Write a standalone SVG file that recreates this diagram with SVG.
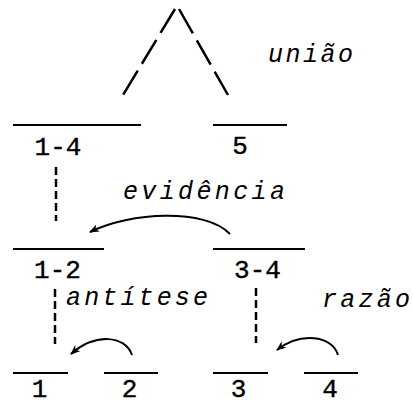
<svg xmlns="http://www.w3.org/2000/svg" width="413" height="404" viewBox="0 0 413 404">
  <defs>
    <style>
      .bar { stroke: #000; stroke-width: 2; fill: none; }
      .num { font-family: "Liberation Mono", "DejaVu Sans Mono", monospace; font-size: 26px; fill: #000; text-anchor: middle; stroke: #000; stroke-width: 0.4; }
      .rel { font-family: "Liberation Mono", "DejaVu Sans Mono", monospace; font-style: italic; font-size: 25px; fill: #000; }
      .dash { stroke: #000; stroke-width: 2.5; stroke-dasharray: 8 4; fill: none; }
      .tri { stroke: #000; stroke-width: 2.5; stroke-dasharray: 28 8; fill: none; }
      .arc { stroke: #000; stroke-width: 2; fill: none; marker-end: url(#head); }
    </style>
    <marker id="head" viewBox="0 0 10 8" refX="9" refY="4" markerWidth="10" markerHeight="8" markerUnits="userSpaceOnUse" orient="auto">
      <path d="M0,0 L10,4 L0,8 L3,4 Z" fill="#000"/>
    </marker>
  </defs>
  <rect width="413" height="404" fill="#fff"/>

  <g id="node-1-4">
    <line class="bar" x1="13" y1="125" x2="141" y2="125"/>
    <text class="num" x="58" y="155">1-4</text>
  </g>
  <g id="node-5">
    <line class="bar" x1="213" y1="125" x2="287" y2="125"/>
    <text class="num" x="240" y="154">5</text>
  </g>
  <g id="node-1-2">
    <line class="bar" x1="13" y1="249" x2="104" y2="249"/>
    <text class="num" x="57.5" y="278">1-2</text>
  </g>
  <g id="node-3-4">
    <line class="bar" x1="213" y1="249" x2="305" y2="249"/>
    <text class="num" x="257.5" y="278">3-4</text>
  </g>
  <g id="node-1">
    <line class="bar" x1="13" y1="373" x2="68" y2="373"/>
    <text class="num" x="39.5" y="397">1</text>
  </g>
  <g id="node-2">
    <line class="bar" x1="104" y1="373" x2="158" y2="373"/>
    <text class="num" x="129.5" y="397">2</text>
  </g>
  <g id="node-3">
    <line class="bar" x1="213" y1="373" x2="268" y2="373"/>
    <text class="num" x="238.5" y="397">3</text>
  </g>
  <g id="node-4">
    <line class="bar" x1="304" y1="373" x2="358" y2="373"/>
    <text class="num" x="330" y="397">4</text>
  </g>

  <g id="connectors">
    <path class="tri" d="M175,9 L123,95"/>
    <path class="tri" d="M179,9 L228,95"/>
    <path class="dash" d="M56,167 L56,221"/>
    <path class="dash" d="M55,289 L55,344"/>
    <path class="dash" d="M256,288 L256,343"/>
    <path class="arc" d="M230,234 C205,208 130,212 90,232"/>
    <path class="arc" d="M132,355 C125,335 95,333 71,354"/>
    <path class="arc" d="M338,355 C332,335 300,332 277,350"/>
  </g>

  <g id="relation-labels">
    <text class="rel" x="268" y="62" textLength="85" lengthAdjust="spacing">união</text>
    <text class="rel" x="123" y="199" textLength="162" lengthAdjust="spacing">evidência</text>
    <text class="rel" x="66" y="305" textLength="142" lengthAdjust="spacing">antítese</text>
    <text class="rel" x="322" y="307" textLength="88" lengthAdjust="spacing">razão</text>
  </g>
</svg>
